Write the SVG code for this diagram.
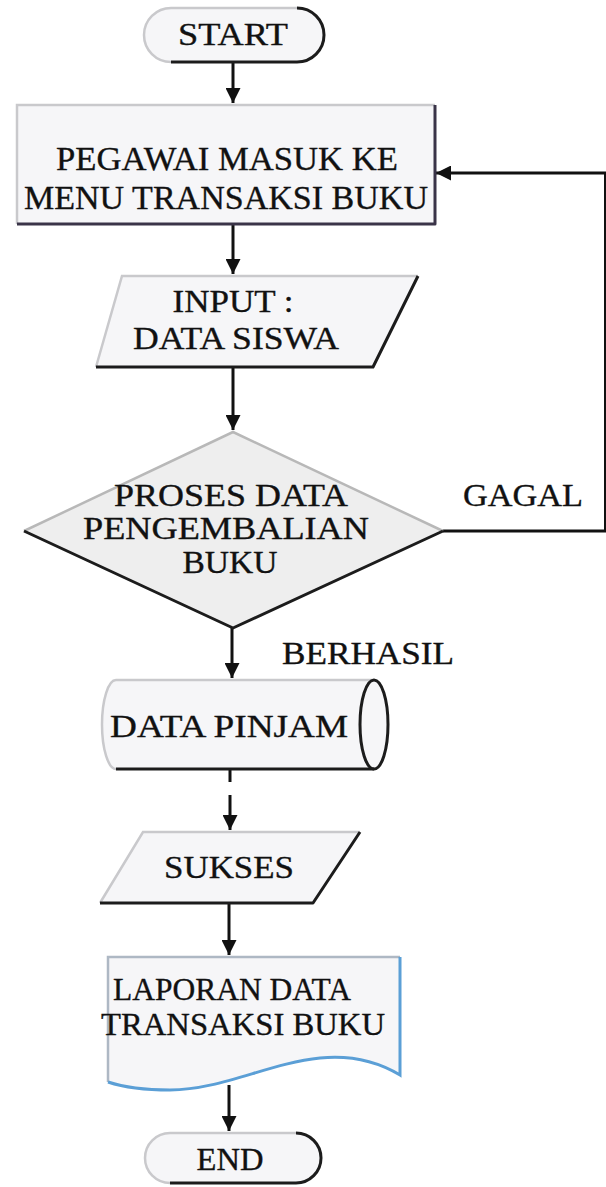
<svg xmlns="http://www.w3.org/2000/svg" width="606" height="1187" viewBox="0 0 606 1187">
  <style>
    text { font-family: "Liberation Serif", "Times New Roman", serif; fill: #111; stroke: #111; stroke-width: 0.35; text-anchor: middle; }
    .lbl { font-size: 32px; }
    .big { font-size: 34px; }
    .dia { font-size: 31px; }
    .fill { fill: #f6f6f8; stroke: none; }
    .lite { fill: none; stroke: #c9c9cc; stroke-width: 2.5; }
    .dark { fill: none; stroke: #1c1c1c; stroke-width: 3; stroke-linejoin: round; }
    .conn { fill: none; stroke: #111; stroke-width: 3; }
  </style>
  <defs>
    <marker id="ah" viewBox="0 0 10 10" refX="10" refY="5" markerWidth="5" markerHeight="5" orient="auto" markerUnits="strokeWidth">
      <path d="M0,0 L10,5 L0,10 Z" fill="#111"/>
    </marker>
  </defs>

  <rect width="606" height="1187" fill="#ffffff"/>

  <!-- connectors -->
  <g id="connectors">
    <path class="conn" d="M233 62 V103" marker-end="url(#ah)"/>
    <path class="conn" d="M233 224 V274" marker-end="url(#ah)"/>
    <path class="conn" d="M233 367 V430" marker-end="url(#ah)"/>
    <path class="conn" d="M232 628 V678" marker-end="url(#ah)"/>
    <path class="conn" d="M230 769 V782"/>
    <path class="conn" d="M230 795 V830" marker-end="url(#ah)"/>
    <path class="conn" d="M229 903 V955" marker-end="url(#ah)"/>
    <path class="conn" d="M229 1085 V1131" marker-end="url(#ah)"/>
    <path class="conn" d="M443 531 H605.5 V173 H436" marker-end="url(#ah)"/>
    <text class="dia" x="523" y="506" textLength="120" lengthAdjust="spacingAndGlyphs">GAGAL</text>
    <text class="dia" x="368" y="664" textLength="172" lengthAdjust="spacingAndGlyphs">BERHASIL</text>
  </g>

  <!-- start terminator -->
  <g id="start">
    <rect class="fill" x="144" y="8" width="180" height="54" rx="27" ry="27"/>
    <path class="lite" d="M171 62 A27 27 0 0 1 171 8 H297"/>
    <path class="dark" d="M297 8 A27 27 0 0 1 297 62 H171"/>
    <text class="lbl" x="233" y="45" textLength="110" lengthAdjust="spacingAndGlyphs">START</text>
  </g>

  <!-- process box -->
  <g id="menu">
    <rect class="fill" x="17" y="105" width="418" height="119"/>
    <path class="lite" d="M17 224 V105 H435"/>
    <path class="dark" d="M435 105 V224 H17" style="stroke:#3a3448"/>
    <text class="big" x="227" y="170" textLength="342" lengthAdjust="spacingAndGlyphs">PEGAWAI MASUK KE</text>
    <text class="big" x="226" y="209" textLength="404" lengthAdjust="spacingAndGlyphs">MENU TRANSAKSI BUKU</text>
  </g>

  <!-- input parallelogram -->
  <g id="input">
    <path class="fill" d="M122 276 H418 L373 367 H96 Z"/>
    <path class="lite" d="M96 367 L122 276 H418"/>
    <path class="dark" d="M418 276 L373 367 H96"/>
    <text class="lbl" x="233" y="312" textLength="121" lengthAdjust="spacingAndGlyphs">INPUT :</text>
    <text class="lbl" x="236" y="349" textLength="206" lengthAdjust="spacingAndGlyphs">DATA SISWA</text>
  </g>

  <!-- decision -->
  <g id="decision">
    <path d="M233 432 L443 531 L233 628 L24 531 Z" fill="#eeeeee"/>
    <path class="lite" d="M24 531 L233 432 L443 531" style="stroke:#b8b8b8"/>
    <path class="dark" d="M443 531 L233 628 L24 531"/>
    <text class="dia" x="231" y="506" textLength="234" lengthAdjust="spacingAndGlyphs">PROSES DATA</text>
    <text class="dia" x="226" y="539" textLength="286" lengthAdjust="spacingAndGlyphs">PENGEMBALIAN</text>
    <text class="dia" x="230" y="573" textLength="95" lengthAdjust="spacingAndGlyphs">BUKU</text>
  </g>

  <!-- stored data cylinder -->
  <g id="datapinjam">
    <path class="fill" d="M116 680 H374 A14 44.5 0 0 1 374 769 H116 A14 44.5 0 0 1 116 680 Z"/>
    <path class="lite" d="M116 769 A14 44.5 0 0 1 116 680 H374"/>
    <path class="dark" d="M116 769 H374"/>
    <ellipse cx="374" cy="724.5" rx="14" ry="44.5" fill="none" stroke="#1c1c1c" stroke-width="3"/>
    <text class="lbl" x="229" y="737" textLength="238" lengthAdjust="spacingAndGlyphs">DATA PINJAM</text>
  </g>

  <!-- output parallelogram -->
  <g id="sukses">
    <path class="fill" d="M143 832 H360 L313 903 H100 Z"/>
    <path class="lite" d="M100 903 L143 832 H360"/>
    <path class="dark" d="M360 832 L313 903 H100"/>
    <text class="lbl" x="229" y="878" textLength="130" lengthAdjust="spacingAndGlyphs">SUKSES</text>
  </g>

  <!-- document -->
  <g id="laporan">
    <path class="fill" d="M108 957 H400 V1075 C375 1060 350 1055 320 1058 C270 1063 220 1090 170 1090 C140 1090 120 1086 108 1082 Z"/>
    <path class="lite" d="M108 1082 V957 H400" style="stroke:#aeb8c4"/>
    <path d="M400 957 V1075 C375 1060 350 1055 320 1058 C270 1063 220 1090 170 1090 C140 1090 120 1086 108 1082" fill="none" stroke="#5b9fd6" stroke-width="3"/>
    <text class="lbl" x="232" y="1000" textLength="238" lengthAdjust="spacingAndGlyphs">LAPORAN DATA</text>
    <text class="lbl" x="243" y="1035" textLength="284" lengthAdjust="spacingAndGlyphs">TRANSAKSI BUKU</text>
  </g>

  <!-- end terminator -->
  <g id="end">
    <rect class="fill" x="145" y="1133" width="176" height="50" rx="25" ry="25"/>
    <path class="lite" d="M170 1183 A25 25 0 0 1 170 1133 H296"/>
    <path class="dark" d="M296 1133 A25 25 0 0 1 296 1183 H170"/>
    <text class="lbl" x="230" y="1170" textLength="67" lengthAdjust="spacingAndGlyphs">END</text>
  </g>
</svg>
